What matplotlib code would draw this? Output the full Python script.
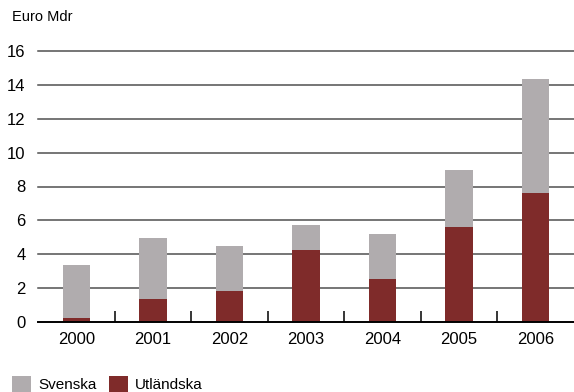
import matplotlib.pyplot as plt
import numpy as np
from matplotlib.ticker import FixedLocator

plt.rcParams['font.family'] = ['Liberation Sans', 'DejaVu Sans']

years = ['2000', '2001', '2002', '2003', '2004', '2005', '2006']
utlandska = [0.22, 1.34, 1.84, 4.24, 2.53, 5.60, 7.61]
totalt = [3.35, 4.95, 4.48, 5.72, 5.19, 8.98, 14.36]
svenska = [t - u for t, u in zip(totalt, utlandska)]

grey = '#b0acae'
red = '#7f2b2a'

fig = plt.figure(figsize=(5.74, 3.92), dpi=100)
ax = fig.add_axes([38 / 574, 1 - 321.7 / 392, 1 - 38 / 574, (321.7 - 51.3) / 392])

x = np.arange(len(years))
b_ut = ax.bar(x, utlandska, width=0.36, color=red, zorder=3)
b_sv = ax.bar(x, svenska, width=0.36, bottom=utlandska, color=grey, zorder=3)

ax.set_xlim(-0.5, 6.5)
ax.set_ylim(0, 16)
ax.set_yticks(range(0, 17, 2))
for v in range(2, 17, 2):
    ax.axhline(v, color='#505050', lw=1.1, zorder=1, clip_on=False)

for s in ['top', 'right', 'left']:
    ax.spines[s].set_visible(False)
ax.spines['bottom'].set_linewidth(1.4)
ax.spines['bottom'].set_zorder(4)

ax.set_xticks(x)
ax.set_xticklabels(years)
ax.xaxis.set_minor_locator(FixedLocator(x[:-1] + 0.5))
ax.tick_params(axis='x', which='major', length=0, pad=7.5, labelsize=12)
ax.tick_params(axis='x', which='minor', direction='in', length=8, width=1.1, color='black')
ax.tick_params(axis='y', length=0, pad=9, labelsize=12)

fig.text(12 / 574, 1 - 10 / 392, 'Euro Mdr', fontsize=10.5, va='top', ha='left')

fig.legend([b_sv, b_ut], ['Svenska', 'Utländska'], loc='lower left',
           bbox_to_anchor=(12 / 574, 0), bbox_transform=fig.transFigure,
           ncol=2, frameon=False, fontsize=11, handlelength=1.25, handleheight=1.2,
           handletextpad=0.45, columnspacing=0.85, borderpad=0, borderaxespad=0)

fig.savefig('out.png', dpi=100)
